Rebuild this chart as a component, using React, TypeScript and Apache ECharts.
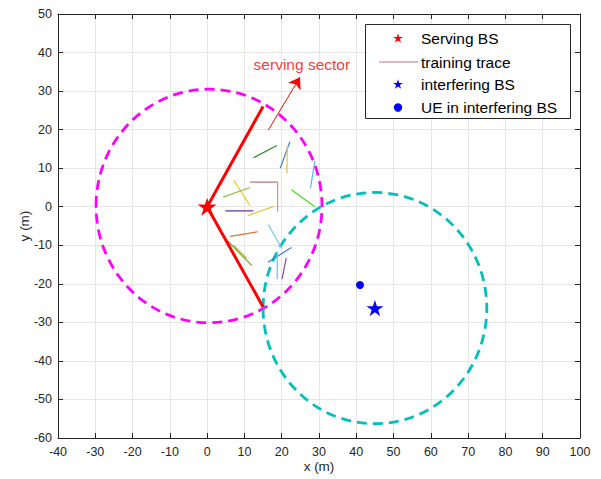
import React, { useEffect, useRef } from "react";
import * as echarts from "echarts";

// Axis ranges (metres)
const xRange = [-40, 100];
const yRange = [-60, 50];
const tickStep = 10;

// Base stations and user equipment
const servingBS = [0, 0];
const interferingBS = [45, -26.3];
const ueInInterferingBS = [41, -20.3];

// Coverage circles: [centreX, centreY, radius, colour]
const coverageCircles: [number, number, number, string][] = [
  [0.5, 0.2, 30.3, "#ff00ff"],
  [45, -26.3, 30, "#00bfbf"],
];

// Serving sector edges, from the serving BS outward
const sectorEdges = [
  [15, 26],
  [15, -26],
];

// Sector annotation arrow and its label
const sectorArrow = [
  [16.4, 19.9],
  [24.9, 33.6],
];
const sectorLabelPos = [25.4, 36.8];

// Training traces: [x1, y1, x2, y2]
const traceSegments = [
  [12.4, 12.7, 18.7, 15.9],
  [19.6, 10.0, 22.2, 16.9],
  [21.4, 8.7, 21.5, 15.9],
  [27.7, 4.8, 28.9, 11.9],
  [11.5, 6.4, 18.9, 6.4],
  [18.9, 6.4, 18.9, -1.3],
  [7.1, 6.9, 11.5, 0.3],
  [4.3, 2.5, 11.5, 5.0],
  [22.6, 4.4, 28.9, 0.0],
  [4.9, -1.1, 12.4, -1.1],
  [10.9, -2.3, 17.9, 0.1],
  [6.2, -7.7, 13.6, -6.5],
  [16.4, -4.6, 20.0, -10.8],
  [5.5, -8.9, 12.0, -15.3],
  [7.0, -9.9, 10.6, -13.4],
  [16.3, -14.4, 22.6, -10.6],
  [18.8, -11.7, 18.8, -18.8],
  [20.1, -18.8, 21.2, -13.3],
];
const traceColors = [
  "#2e8b2e",
  "#3a7fd0",
  "#f0c040",
  "#5cb8f0",
  "#c07080",
  "#e09070",
  "#f0d020",
  "#90c040",
  "#40e020",
  "#7030a0",
  "#f0c040",
  "#e07040",
  "#70c8f0",
  "#80a030",
  "#a0c040",
  "#3080d0",
  "#60c0e8",
  "#8050a0",
];

const legendItems = ["Serving BS", "training trace", "interfering BS", "UE in interfering BS"];

const STAR_PATH =
  "path://M50,0 L61.23,34.55 L97.55,34.55 L68.17,55.9 L79.39,90.45 L50,69.1 L20.61,90.45 L31.83,55.9 L2.45,34.55 L38.77,34.55 Z";

const FONT = "'Liberation Sans', Arial, Helvetica, sans-serif";
const AXIS_COLOR = "#262626";

function starPoints(cx: number, cy: number, R: number): number[][] {
  const r = R * 0.382;
  const pts: number[][] = [];
  for (let i = 0; i < 10; i++) {
    const a = (-90 + i * 36) * (Math.PI / 180);
    const rad = i % 2 === 0 ? R : r;
    pts.push([cx + rad * Math.cos(a), cy + rad * Math.sin(a)]);
  }
  return pts;
}

export default function App() {
  const ref = useRef<HTMLDivElement>(null);

  useEffect(() => {
    if (!ref.current) return;
    const chart = echarts.init(ref.current, null, { renderer: "svg" });

    const gridBox = { left: 58, top: 14, right: 21, bottom: 41 };

    const baseAxis = {
      type: "value" as const,
      interval: tickStep,
      axisLine: { show: true, onZero: false, lineStyle: { color: AXIS_COLOR, width: 1 } },
      axisTick: { show: true, inside: true, length: 5, lineStyle: { color: AXIS_COLOR } },
    };

    const traceSeries = traceSegments.map((s, i) => ({
      type: "line" as const,
      name: "training trace",
      data: [
        [s[0], s[1]],
        [s[2], s[3]],
      ],
      showSymbol: false,
      symbol: "none",
      silent: true,
      lineStyle: { color: traceColors[i], width: 1.2 },
      z: 3,
    }));

    const legendTop = 24;
    const rowYs = [38.5, 62, 84.5, 107.5];
    const textX = 421;
    const iconX = 398;

    chart.setOption({
      animation: false,
      backgroundColor: "#ffffff",
      grid: { ...gridBox, containLabel: false },
      xAxis: [
        {
          ...baseAxis,
          min: xRange[0],
          max: xRange[1],
          position: "bottom",
          name: "x (m)",
          nameLocation: "middle",
          nameGap: 21,
          nameMoveOverlap: false,
          nameTextStyle: { color: AXIS_COLOR, fontSize: 13.5, fontFamily: FONT },
          axisLabel: { color: AXIS_COLOR, fontSize: 12.5, fontFamily: FONT, margin: 7 },
          splitLine: { show: true, lineStyle: { color: "#e6e6e6", width: 1 } },
        },
        {
          ...baseAxis,
          min: xRange[0],
          max: xRange[1],
          position: "top",
          axisLabel: { show: false },
          splitLine: { show: false },
        },
      ],
      yAxis: [
        {
          ...baseAxis,
          min: yRange[0],
          max: yRange[1],
          position: "left",
          name: "y (m)",
          nameLocation: "middle",
          nameGap: 27,
          nameMoveOverlap: false,
          nameRotate: 90,
          nameTextStyle: { color: AXIS_COLOR, fontSize: 13.5, fontFamily: FONT },
          axisLabel: { color: AXIS_COLOR, fontSize: 12.5, fontFamily: FONT, margin: 6 },
          splitLine: { show: true, lineStyle: { color: "#e6e6e6", width: 1 } },
        },
        {
          ...baseAxis,
          min: yRange[0],
          max: yRange[1],
          position: "right",
          axisLabel: { show: false },
          splitLine: { show: false },
        },
      ],
      series: [
        {
          type: "custom",
          name: "coverage",
          silent: true,
          data: coverageCircles.map((c) => [c[0], c[1], c[2]]),
          encode: { x: 0, y: 1 },
          renderItem: (params: any, api: any) => {
            const c = api.coord([api.value(0), api.value(1)]);
            const s = api.size([api.value(2), api.value(2)]);
            return {
              type: "ellipse",
              shape: { cx: c[0], cy: c[1], rx: s[0], ry: s[1] },
              style: {
                fill: "none",
                stroke: coverageCircles[params.dataIndex][3],
                lineWidth: 2.8,
                lineDash: [10, 6],
              },
            };
          },
          z: 2,
        },
        ...traceSeries,
        ...sectorEdges.map((e) => ({
          type: "line" as const,
          name: "sector edge",
          data: [servingBS, e],
          showSymbol: false,
          symbol: "none",
          silent: true,
          lineStyle: { color: "#ff0000", width: 3 },
          z: 4,
        })),
        {
          type: "lines",
          coordinateSystem: "cartesian2d",
          silent: true,
          symbol: ["none", "arrow"],
          symbolSize: [7, 11],
          lineStyle: { color: "#ff0000", width: 1, opacity: 1 },
          data: [{ coords: sectorArrow }],
          z: 4,
        },
        {
          type: "scatter",
          name: "sector label",
          silent: true,
          symbolSize: 0,
          data: [sectorLabelPos],
          label: {
            show: true,
            position: "inside",
            formatter: "serving sector",
            color: "#ff0000",
            fontSize: 15.5,
            fontFamily: FONT,
          },
          z: 5,
        },
        {
          type: "scatter",
          name: "Serving BS",
          symbol: STAR_PATH,
          symbolKeepAspect: true,
          symbolSize: 19,
          data: [servingBS],
          itemStyle: { color: "#ff0000", opacity: 1 },
          z: 6,
        },
        {
          type: "scatter",
          name: "interfering BS",
          symbol: STAR_PATH,
          symbolKeepAspect: true,
          symbolSize: 17,
          data: [interferingBS],
          itemStyle: { color: "#0000ff", opacity: 1 },
          z: 6,
        },
        {
          type: "scatter",
          name: "UE in interfering BS",
          symbol: "circle",
          symbolSize: 8,
          data: [ueInInterferingBS],
          itemStyle: { color: "#0000ff", opacity: 1 },
          z: 6,
        },
      ],
      graphic: [
        {
          type: "rect",
          shape: { x: 365.5, y: legendTop + 0.5, width: 205, height: 94 },
          style: { fill: "#ffffff", stroke: AXIS_COLOR, lineWidth: 1 },
          z: 100,
        },
        {
          type: "polygon",
          shape: { points: starPoints(iconX, rowYs[0], 5.2) },
          style: { fill: "#ff0000" },
          z: 101,
        },
        {
          type: "line",
          shape: { x1: 379, y1: rowYs[1], x2: 418, y2: rowYs[1] },
          style: { stroke: "#c07080", lineWidth: 1.2 },
          z: 101,
        },
        {
          type: "polygon",
          shape: { points: starPoints(iconX, rowYs[2], 5.2) },
          style: { fill: "#0000ff" },
          z: 101,
        },
        {
          type: "circle",
          shape: { cx: iconX, cy: rowYs[3], r: 4.2 },
          style: { fill: "#0000ff" },
          z: 101,
        },
        ...legendItems.map((t, i) => ({
          type: "text",
          x: textX,
          y: rowYs[i],
          style: {
            text: t,
            fill: "#000000",
            fontSize: 15.5,
            fontFamily: FONT,
            textVerticalAlign: "middle",
            verticalAlign: "middle",
          },
          z: 101,
        })),
      ],
    });

    return () => chart.dispose();
  }, []);

  return (
    <div
      ref={ref}
      style={{ position: "absolute", left: 0, top: 0, width: 601, height: 479 }}
    />
  );
}
